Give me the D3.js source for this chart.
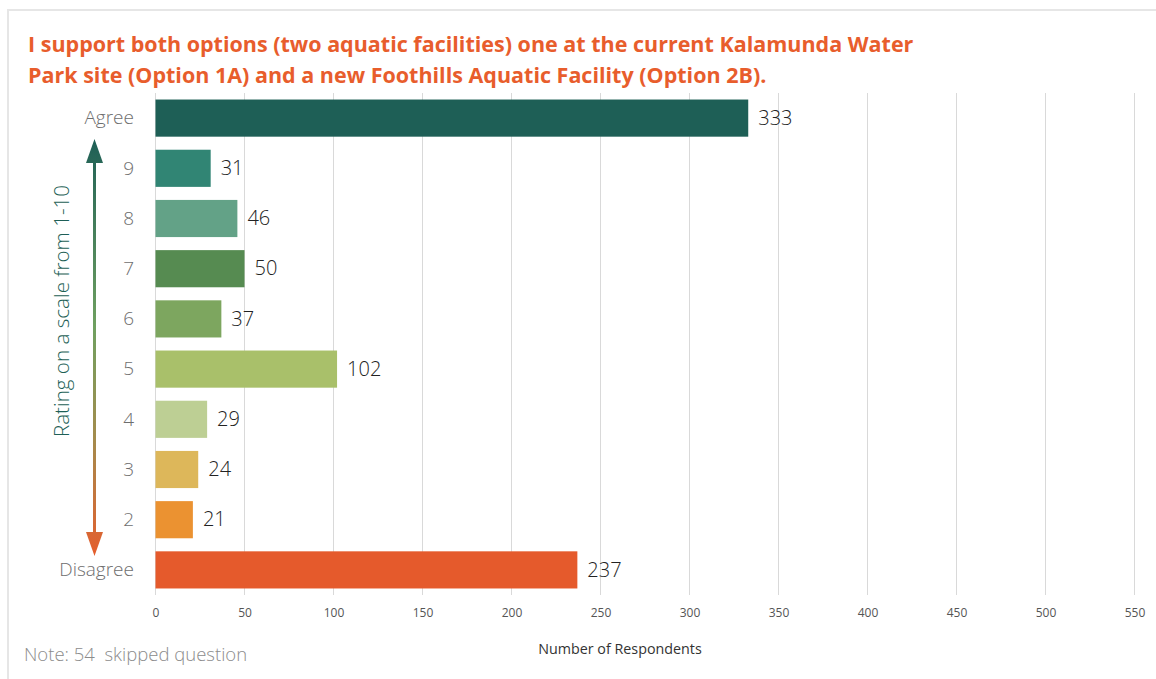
<!DOCTYPE html>
<html lang="en">
<head>
    <meta charset="UTF-8">
    <title>Support for both options</title>
    <script src="https://d3js.org/d3.v7.min.js"></script>
    <style>
        body { margin: 0; background: #fff; }
        svg text { font-family: 'Open Sans', sans-serif; }
        .title { font-weight: 700; font-size: 21.5px; fill: #e85d2c; }
        .cat { font-size: 19px; font-weight: 300; fill: #6e6e6e; }
        .val { font-size: 20px; font-weight: 300; fill: #222; }
        .tick text { font-size: 12px; fill: #555; }
        .grid line { stroke: #d9d9d9; }
    </style>
</head>
<body>
    <div id="chart"></div>

    <script>
        // categories from top to bottom
        const categories = ['Agree', '9', '8', '7', '6', '5', '4', '3', '2', 'Disagree'];
        const respondents = [333, 31, 46, 50, 37, 102, 29, 24, 21, 237];
        const barColors = ['#1e5f56', '#318574', '#63a287', '#568b51', '#7da65f',
                           '#a9c06a', '#bdcf94', '#ddb75a', '#eb9231', '#e55a2c'];
        const xTicks = [0, 50, 100, 150, 200, 250, 300, 350, 400, 450, 500, 550];
        const titleLines = [
            'I support both options (two aquatic facilities) one at the current Kalamunda Water',
            'Park site (Option 1A) and a new Foothills Aquatic Facility (Option 2B).'
        ];

        const width = 1156;
        const height = 679;

        const svg = d3.select('#chart')
            .append('svg')
            .attr('width', width)
            .attr('height', height);

        // light frame on top and left
        svg.append('path')
            .attr('d', 'M8,679 V10 H1156')
            .attr('fill', 'none')
            .attr('stroke', '#e6e6e6')
            .attr('stroke-width', 2);

        svg.selectAll('.title')
            .data(titleLines)
            .enter()
            .append('text')
            .attr('class', 'title')
            .attr('x', 28)
            .attr('y', (d, i) => 52 + i * 31)
            .text(d => d);

        const x = d3.scaleLinear()
            .domain([0, 550])
            .range([155.5, 1134.5]);

        const y = d3.scaleBand()
            .domain(categories)
            .range([93, 595])
            .paddingInner(0.26)
            .paddingOuter(0.13);

        // vertical grid lines
        svg.append('g')
            .attr('class', 'grid')
            .selectAll('line')
            .data(xTicks)
            .enter()
            .append('line')
            .attr('x1', d => x(d))
            .attr('x2', d => x(d))
            .attr('y1', 93)
            .attr('y2', 595);

        // x axis labels, no domain line
        const xAxis = svg.append('g')
            .attr('transform', 'translate(0,600)')
            .call(d3.axisBottom(x).tickValues(xTicks).tickSize(0).tickPadding(8));
        xAxis.select('.domain').remove();

        svg.append('text')
            .attr('x', 620)
            .attr('y', 654)
            .attr('text-anchor', 'middle')
            .style('font-size', '14.3px')
            .style('fill', '#333')
            .text('Number of Respondents');

        // bars
        const rows = categories.map((c, i) => ({ cat: c, value: respondents[i], color: barColors[i] }));

        svg.append('g')
            .selectAll('rect')
            .data(rows)
            .enter()
            .append('rect')
            .attr('x', x(0))
            .attr('y', d => y(d.cat))
            .attr('width', d => x(d.value) - x(0))
            .attr('height', y.bandwidth())
            .attr('fill', d => d.color);

        svg.append('g')
            .selectAll('text')
            .data(rows)
            .enter()
            .append('text')
            .attr('class', 'val')
            .attr('x', d => x(d.value) + 10)
            .attr('y', d => y(d.cat) + y.bandwidth() / 2)
            .attr('dy', '0.33em')
            .text(d => d.value);

        // category labels
        svg.append('g')
            .selectAll('text')
            .data(categories)
            .enter()
            .append('text')
            .attr('class', 'cat')
            .attr('x', 134)
            .attr('y', d => y(d) + y.bandwidth() / 2)
            .attr('dy', '0.33em')
            .attr('text-anchor', 'end')
            .text(d => d);

        // gradient double arrow
        const defs = svg.append('defs');
        const grad = defs.append('linearGradient')
            .attr('id', 'arrowGrad')
            .attr('gradientUnits', 'userSpaceOnUse')
            .attr('x1', 0).attr('y1', 139)
            .attr('x2', 0).attr('y2', 556);
        [['0%', '#1e5f56'], ['45%', '#6fa060'], ['72%', '#a48b4c'], ['100%', '#e55e2d']]
            .forEach(s => grad.append('stop').attr('offset', s[0]).attr('stop-color', s[1]));

        const ax = 94.5;
        svg.append('rect')
            .attr('x', ax - 1.5)
            .attr('y', 160)
            .attr('width', 3)
            .attr('height', 376)
            .attr('fill', 'url(#arrowGrad)');
        svg.append('path')
            .attr('d', `M${ax},139 L${ax + 8.5},163 L${ax - 8.5},163 Z`)
            .attr('fill', 'url(#arrowGrad)');
        svg.append('path')
            .attr('d', `M${ax},556 L${ax + 8.5},532 L${ax - 8.5},532 Z`)
            .attr('fill', 'url(#arrowGrad)');

        svg.append('text')
            .attr('transform', 'translate(69,311) rotate(-90)')
            .attr('text-anchor', 'middle')
            .style('font-size', '20.6px')
            .style('font-weight', 300)
            .style('fill', '#1e5f56')
            .text('Rating on a scale from 1-10');

        svg.append('text')
            .attr('x', 24)
            .attr('y', 661)
            .style('font-size', '18.5px')
            .style('font-weight', 300)
            .style('fill', '#8c8c8c')
            .attr('xml:space', 'preserve')
            .text('Note: 54  skipped question');
    </script>
</body>
</html>
